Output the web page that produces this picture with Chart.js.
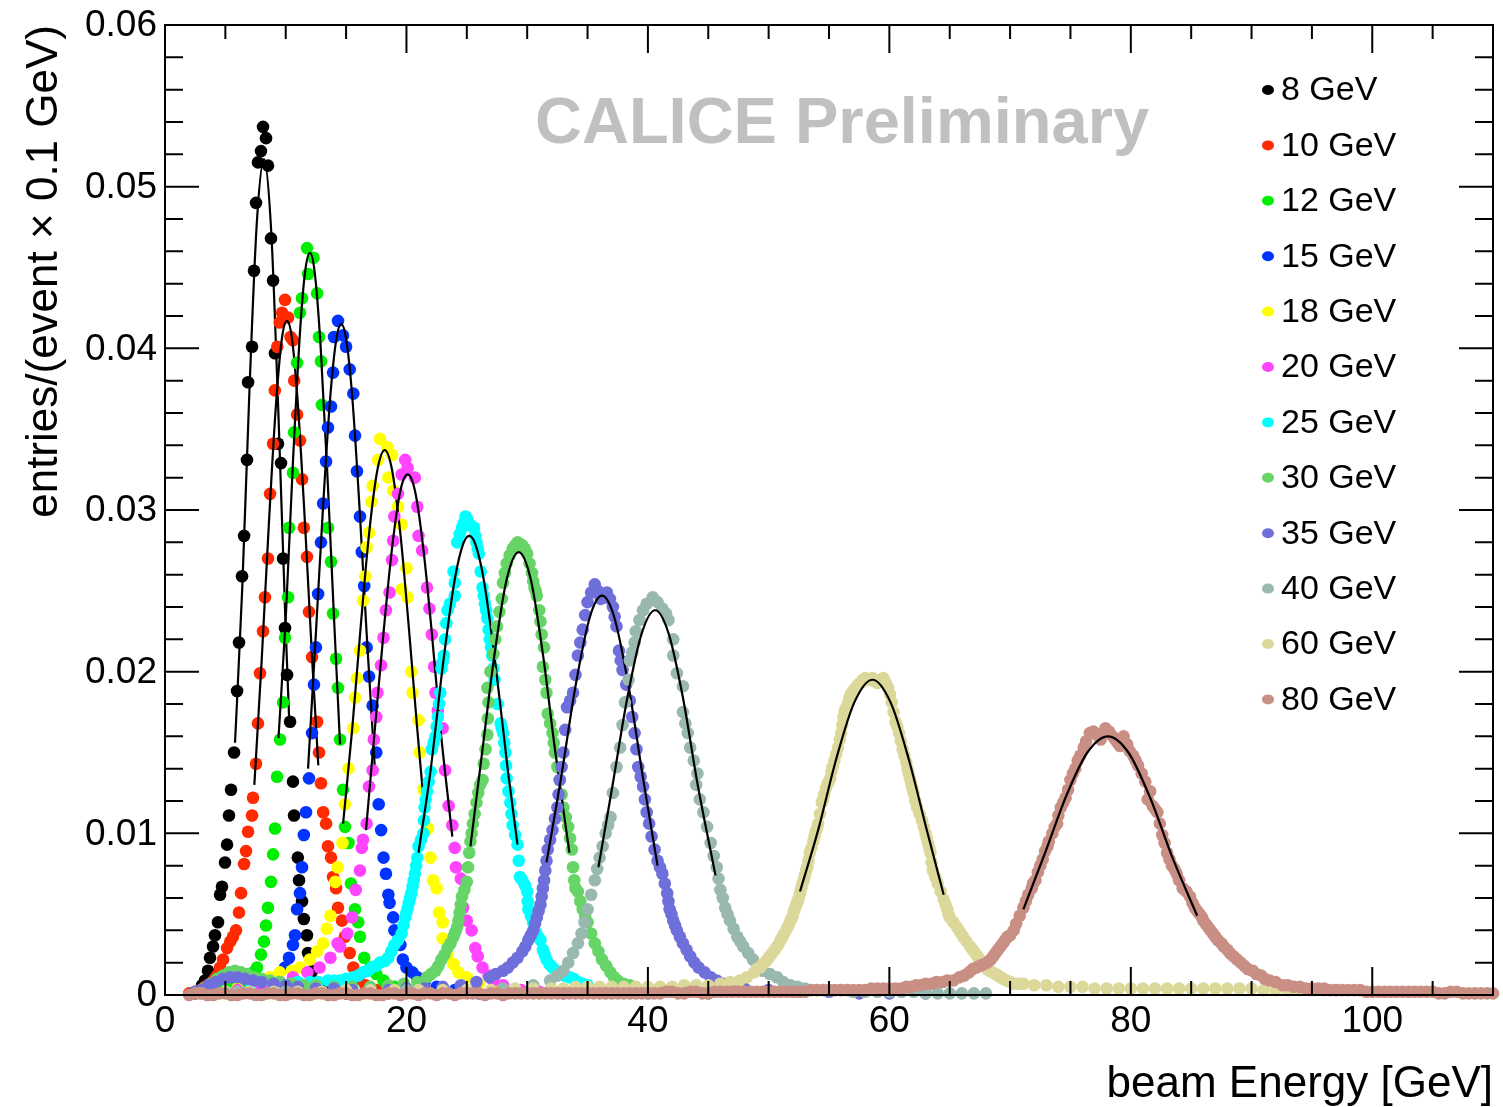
<!DOCTYPE html>
<html>
<head>
<meta charset="utf-8">
<script src="https://cdn.jsdelivr.net/npm/chart.js@4"></script>
<style>
  body { margin: 0; background: #fff; }
  canvas { display: block; }
</style>
</head>
<body>
<canvas id="c" width="1503" height="1107"></canvas>
<script>
// energy response histograms: [beam energy GeV, entries]
const e8 = [[2.5,0.0001],[2.9,0.0003],[3.07,0.0006],[3.31,0.0009],[3.56,0.0015],[3.73,0.0023],[3.98,0.003],[4.14,0.0037],[4.39,0.0045],[4.56,0.0062],[4.72,0.0067],[4.97,0.0082],[5.14,0.0093],[5.3,0.0111],[5.47,0.0127],[5.72,0.015],[5.97,0.0188],[6.13,0.0218],[6.38,0.0259],[6.55,0.0284],[6.79,0.0331],[6.88,0.0379],[7.21,0.0401],[7.37,0.0448],[7.54,0.049],[7.7,0.0515],[7.95,0.0522],[8.12,0.0537],[8.37,0.053],[8.53,0.0513],[8.78,0.0468],[8.95,0.0442],[9.11,0.0397],[9.36,0.0341],[9.61,0.0329],[9.78,0.027],[9.94,0.0227],[10.11,0.0198],[10.36,0.0169],[10.6,0.0132],[10.69,0.0111],[11.0,0.0085],[11.1,0.0071],[11.35,0.0058],[11.5,0.0047],[11.76,0.0037],[11.85,0.0026],[12.2,0.0015],[12.6,0.0008],[13.2,0.0004],[14,0.0002],[15,0.0001]];
const e10 = [[2.0,0.0001],[2.5,0.0002],[2.9,0.0003],[3.3,0.0005],[3.73,0.0007],[4.1,0.001],[4.31,0.0012],[4.56,0.0017],[4.81,0.0022],[5.14,0.0029],[5.4,0.0033],[5.63,0.0036],[5.88,0.004],[6.13,0.0051],[6.3,0.0063],[6.55,0.0081],[6.71,0.0089],[6.88,0.0101],[7.21,0.0111],[7.29,0.0122],[7.54,0.0143],[7.7,0.0168],[7.87,0.0199],[8.12,0.0225],[8.28,0.0246],[8.53,0.027],[8.7,0.031],[8.95,0.0341],[9.1,0.0374],[9.3,0.0401],[9.5,0.0416],[9.7,0.0422],[9.94,0.043],[10.2,0.0419],[10.4,0.0407],[10.6,0.0405],[10.7,0.038],[10.94,0.0359],[11.18,0.0343],[11.35,0.0319],[11.5,0.0289],[11.76,0.0271],[11.93,0.0237],[12.18,0.0209],[12.6,0.0169],[12.76,0.015],[12.92,0.0131],[13.1,0.0113],[13.34,0.0106],[13.5,0.0092],[13.75,0.0085],[13.92,0.0073],[14.17,0.0066],[14.33,0.0054],[14.66,0.0046],[14.9,0.0036],[15.3,0.0026],[15.6,0.0017],[16.0,0.001],[16.6,0.0006],[17.5,0.0003],[18.5,0.0001]];
const e12 = [[3.5,0.0002],[4.5,0.0003],[5.5,0.0005],[6.5,0.0008],[7.0,0.0011],[7.3,0.0014],[7.62,0.0017],[7.95,0.0025],[8.2,0.0033],[8.37,0.0043],[8.53,0.0054],[8.78,0.007],[8.95,0.0087],[9.11,0.0103],[9.28,0.0135],[9.53,0.0158],[9.78,0.0181],[9.94,0.0221],[10.19,0.0246],[10.27,0.0289],[10.6,0.0323],[10.69,0.0348],[10.94,0.0391],[11.18,0.0422],[11.35,0.0431],[11.76,0.0462],[11.85,0.0446],[12.3,0.0456],[12.6,0.0434],[12.76,0.0407],[12.92,0.0392],[13.0,0.0365],[13.5,0.0289],[13.75,0.0268],[13.92,0.0236],[14.17,0.0208],[14.33,0.019],[14.5,0.0158],[14.75,0.0127],[14.91,0.0104],[15.2,0.0094],[15.4,0.0069],[15.74,0.0053],[16.0,0.0045],[16.15,0.0036],[16.5,0.0023],[17.0,0.0017],[17.5,0.0013],[18.1,0.0009],[19,0.0005],[20,0.0003],[21,0.0002]];
const e15 = [[4,0.0001],[6,0.0002],[7.5,0.0004],[8.5,0.0006],[9.3,0.001],[9.94,0.0017],[10.27,0.0023],[10.6,0.0031],[10.77,0.0037],[10.94,0.0053],[11.18,0.0063],[11.35,0.0079],[11.5,0.0099],[11.68,0.0113],[11.93,0.0134],[12.18,0.0162],[12.34,0.0192],[12.5,0.0215],[12.68,0.0248],[12.92,0.028],[13.1,0.0304],[13.34,0.033],[13.5,0.0351],[13.75,0.0364],[13.92,0.0385],[14.0,0.0407],[14.33,0.0417],[14.75,0.0408],[15.0,0.0401],[15.3,0.0387],[15.6,0.0372],[15.74,0.0346],[15.9,0.0324],[16.15,0.0296],[16.3,0.0274],[16.5,0.0253],[16.7,0.0215],[16.9,0.0197],[17.2,0.0179],[17.5,0.015],[17.7,0.0118],[17.9,0.0102],[18.1,0.0085],[18.3,0.0075],[18.5,0.0062],[18.6,0.0057],[18.9,0.0048],[19.0,0.004],[19.5,0.0031],[19.7,0.0022],[20.0,0.0017],[20.5,0.0014],[20.9,0.0011],[21.5,0.0008],[22.5,0.0005],[24,0.0003],[26,0.0001]];
const e18 = [[4,0.0002],[6,0.0004],[7.5,0.0008],[8.7,0.0011],[9.5,0.0014],[10.5,0.0015],[11.2,0.0017],[12.0,0.0022],[12.6,0.0027],[13.1,0.0032],[13.4,0.0041],[13.7,0.0049],[14.1,0.007],[14.3,0.0079],[14.7,0.0094],[14.9,0.0118],[15.2,0.014],[15.6,0.0165],[15.75,0.0184],[15.9,0.0196],[16.15,0.0213],[16.4,0.0244],[16.6,0.0259],[16.7,0.0277],[16.9,0.0286],[17.1,0.0305],[17.2,0.0315],[17.65,0.0331],[17.8,0.0344],[18.4,0.0339],[18.5,0.032],[18.8,0.0334],[18.9,0.0312],[19.3,0.0302],[19.6,0.0291],[19.6,0.0251],[20.0,0.0264],[20.1,0.0246],[20.4,0.02],[20.5,0.0187],[21.0,0.017],[21.1,0.015],[21.4,0.0127],[21.8,0.0103],[22.0,0.0085],[22.2,0.0071],[22.5,0.0066],[22.7,0.0051],[23.0,0.0045],[23.0,0.0035],[23.4,0.0025],[23.9,0.0019],[24.3,0.0014],[25.0,0.0011],[26,0.0007],[27.5,0.0004],[29,0.0002],[31,0.0001]];
const e20 = [[4,0.0001],[6,0.0003],[8,0.0005],[9.5,0.0008],[10.6,0.0011],[11.8,0.0014],[12.8,0.0017],[13.7,0.0023],[14.3,0.0032],[14.5,0.003],[15.1,0.0038],[15.5,0.0048],[15.8,0.0065],[16.15,0.0077],[16.3,0.0091],[16.4,0.0096],[16.7,0.0106],[16.9,0.0129],[17.2,0.0139],[17.3,0.0158],[17.5,0.0172],[17.6,0.0187],[17.9,0.0204],[18.1,0.0221],[18.3,0.0238],[18.6,0.0249],[18.8,0.0269],[18.9,0.0281],[19.0,0.0296],[19.3,0.031],[19.6,0.0322],[19.9,0.0331],[20.1,0.0326],[20.7,0.032],[20.9,0.0302],[21.0,0.0284],[21.3,0.0275],[21.7,0.0252],[21.9,0.0239],[22.1,0.0223],[22.3,0.0203],[22.4,0.0187],[22.6,0.0176],[23.0,0.0165],[23.2,0.0139],[23.5,0.0117],[23.8,0.0105],[24.0,0.0091],[24.1,0.0079],[24.5,0.0072],[24.7,0.0054],[25.0,0.0046],[25.4,0.004],[25.7,0.0029],[25.9,0.0024],[26.3,0.0017],[26.8,0.0012],[27.2,0.0009],[28,0.0006],[29.5,0.0003],[31,0.0002],[33,0.0001]];
const e25 = [[3,0.0001],[5,0.0002],[7,0.0003],[9,0.0005],[10.5,0.0007],[11,0.0008],[12,0.0008],[12.7,0.0008],[13.5,0.0009],[14,0.0009],[14.5,0.0009],[15,0.001],[15.6,0.0011],[16,0.0012],[16.4,0.0014],[16.8,0.0015],[17.1,0.0017],[17.5,0.0018],[17.8,0.002],[18.2,0.0021],[18.5,0.0023],[18.75,0.0027],[19.0,0.0031],[19.3,0.0034],[19.6,0.0038],[19.75,0.0043],[19.9,0.0048],[20.0,0.0051],[20.1,0.0054],[20.2,0.0057],[20.3,0.006],[20.4,0.0063],[20.5,0.0067],[20.6,0.0071],[20.7,0.0075],[20.8,0.008],[20.9,0.0085],[21.0,0.0092],[21.2,0.0096],[21.4,0.01],[21.45,0.0108],[21.5,0.0116],[21.6,0.0121],[21.7,0.0126],[21.85,0.0132],[22.0,0.0138],[22.1,0.0152],[22.25,0.0156],[22.4,0.016],[22.5,0.0166],[22.6,0.0172],[22.7,0.018],[22.8,0.0187],[22.9,0.0202],[23.0,0.0206],[23.1,0.021],[23.2,0.022],[23.3,0.023],[23.4,0.0238],[23.6,0.0242],[24.0,0.0247],[24.0,0.0255],[23.9,0.0262],[24.2,0.028],[24.4,0.0285],[24.6,0.0289],[24.75,0.0292],[24.9,0.0296],[25.05,0.0294],[25.2,0.0291],[25.4,0.029],[25.6,0.0289],[25.7,0.0284],[25.8,0.028],[25.9,0.0276],[26.0,0.0273],[26.15,0.0262],[26.3,0.0252],[26.4,0.0247],[26.5,0.0242],[26.6,0.0238],[26.7,0.0233],[26.8,0.0226],[26.9,0.022],[27.0,0.0215],[27.1,0.021],[27.2,0.0202],[27.3,0.0195],[27.55,0.018],[27.8,0.0168],[27.9,0.0165],[28.0,0.0162],[28.1,0.0156],[28.2,0.015],[28.25,0.0142],[28.3,0.0134],[28.45,0.0126],[28.6,0.0119],[28.7,0.0112],[28.8,0.0105],[29.0,0.0099],[29.2,0.0093],[29.3,0.0083],[29.4,0.0073],[29.6,0.0071],[29.8,0.0068],[30.0,0.0064],[30.05,0.0058],[30.1,0.0053],[30.3,0.0049],[30.5,0.0045],[30.7,0.0039],[30.9,0.0036],[31.1,0.0034],[31.3,0.0028],[31.45,0.0025],[31.6,0.0022],[31.85,0.0019],[32.1,0.0017],[32.4,0.0015],[32.7,0.0014],[33.1,0.0012],[33.5,0.0011],[33.85,0.001],[34.2,0.0008],[34.6,0.0007],[35.0,0.0006],[36,0.0004],[38,0.0002],[40,0.0001]];
const e30 = [[2.5,0.0002],[3.2,0.0004],[3.8,0.0007],[4.3,0.001],[4.8,0.0012],[5.3,0.0014],[5.8,0.0015],[6.3,0.0014],[6.8,0.0013],[7.4,0.0011],[8,0.001],[8.7,0.0009],[9.5,0.0008],[10.5,0.0007],[11.5,0.0006],[12.5,0.0006],[14,0.0005],[15.5,0.0005],[17,0.0005],[18.5,0.0006],[19.8,0.0007],[20.9,0.0008],[21.7,0.0011],[22.05,0.0013],[22.4,0.0015],[22.65,0.0018],[22.9,0.0022],[23.15,0.0025],[23.4,0.0029],[23.65,0.0032],[23.9,0.0036],[24.05,0.0039],[24.2,0.0042],[24.3,0.0046],[24.4,0.0051],[24.5,0.0056],[24.6,0.0061],[24.8,0.0065],[25.0,0.007],[25.1,0.0079],[25.2,0.0088],[25.3,0.0095],[25.4,0.01],[25.5,0.0106],[25.65,0.0112],[25.8,0.0119],[25.95,0.0125],[26.1,0.013],[26.3,0.0133],[26.4,0.0143],[26.55,0.0152],[26.7,0.0161],[26.75,0.0171],[26.8,0.0181],[26.7,0.019],[26.95,0.02],[27.2,0.0211],[27.35,0.022],[27.5,0.0228],[27.7,0.0237],[27.9,0.0245],[28.0,0.0255],[28.15,0.0261],[28.3,0.0267],[28.55,0.0272],[28.8,0.0276],[29.0,0.0278],[29.2,0.028],[29.4,0.0279],[29.6,0.0278],[29.8,0.0276],[30.0,0.0273],[30.2,0.0267],[30.4,0.0261],[30.5,0.0256],[30.6,0.0252],[30.7,0.025],[30.8,0.0247],[31.0,0.0238],[31.1,0.0231],[31.2,0.0223],[31.4,0.0215],[31.3,0.0203],[31.5,0.0195],[31.6,0.0187],[31.7,0.0174],[31.9,0.0168],[32.1,0.0162],[32.2,0.0156],[32.3,0.015],[32.5,0.0141],[32.7,0.0133],[32.85,0.0124],[33.0,0.0116],[33.2,0.011],[33.4,0.0104],[33.55,0.0097],[33.7,0.009],[33.8,0.0079],[33.9,0.0071],[34.0,0.0066],[34.2,0.0064],[34.4,0.0058],[34.6,0.0053],[34.8,0.0049],[35.0,0.0045],[35.3,0.0038],[35.6,0.0032],[35.9,0.0027],[36.2,0.0022],[36.55,0.0018],[36.9,0.0014],[37.2,0.0011],[37.5,0.0009],[38,0.0007],[38.5,0.0006],[40,0.0003],[42,0.0002],[45,0.0001]];
const e35 = [[2.5,0.0002],[3,0.0003],[3.6,0.0006],[4.2,0.0008],[4.8,0.001],[5.4,0.0011],[6,0.0011],[6.6,0.001],[7.3,0.0009],[8,0.0008],[9,0.0007],[10,0.0006],[11,0.0005],[12.5,0.0004],[14,0.0004],[15.5,0.0003],[17,0.0003],[18.5,0.0003],[20,0.0004],[21.5,0.0004],[23,0.0005],[24.5,0.0006],[25.8,0.0008],[26.9,0.0011],[27.4,0.0013],[28.0,0.0015],[28.4,0.0017],[28.8,0.002],[29.2,0.0023],[29.6,0.0027],[29.85,0.003],[30.1,0.0034],[30.3,0.0037],[30.5,0.004],[30.65,0.0044],[30.8,0.0048],[30.95,0.0052],[31.1,0.0056],[31.2,0.0061],[31.3,0.0066],[31.4,0.0071],[31.5,0.0077],[31.6,0.0083],[31.7,0.009],[31.9,0.0096],[32.1,0.0102],[32.3,0.0109],[32.5,0.0116],[32.6,0.0124],[32.7,0.0133],[32.85,0.0141],[33.0,0.015],[33.15,0.0164],[33.3,0.0178],[33.55,0.0182],[33.8,0.0187],[34.0,0.0198],[34.2,0.021],[34.4,0.0218],[34.6,0.0226],[34.8,0.0235],[35.0,0.0243],[35.3,0.0249],[35.6,0.0254],[35.85,0.025],[36.1,0.0245],[36.35,0.0247],[36.6,0.0249],[36.85,0.0245],[37.1,0.024],[37.25,0.0234],[37.4,0.0228],[37.6,0.0213],[37.75,0.0207],[37.9,0.0201],[38.2,0.0192],[38.5,0.0182],[38.7,0.0172],[38.9,0.0162],[39.05,0.0152],[39.2,0.0141],[39.4,0.0135],[39.6,0.0129],[39.75,0.0121],[39.9,0.0113],[40.1,0.0106],[40.3,0.0098],[40.55,0.009],[40.8,0.0083],[41.0,0.0079],[41.2,0.0075],[41.4,0.0069],[41.6,0.0063],[41.7,0.0058],[41.8,0.0053],[41.95,0.005],[42.1,0.0046],[42.25,0.0043],[42.4,0.004],[42.65,0.0036],[42.9,0.0032],[43.2,0.0028],[43.5,0.0024],[43.85,0.002],[44.2,0.0017],[44.7,0.0014],[45.2,0.0011],[45.7,0.0009],[46.2,0.0007],[47,0.0005],[48,0.0004],[50,0.0003],[52.5,0.0002],[55,0.0002],[57.5,0.0001],[60,0.0001],[63,0.0001]];
const e40 = [[3,0.0001],[6,0.0002],[10,0.0002],[15,0.0002],[20,0.0003],[25,0.0003],[28,0.0004],[30.5,0.0006],[31.9,0.0009],[32.5,0.0012],[33.0,0.0015],[33.4,0.002],[33.8,0.0026],[34.2,0.0032],[34.5,0.0038],[34.75,0.0045],[35.0,0.0053],[35.3,0.0062],[35.6,0.0071],[35.8,0.0078],[36.0,0.0085],[36.25,0.0092],[36.5,0.01],[36.7,0.0105],[36.9,0.011],[37.1,0.0125],[37.4,0.0141],[37.7,0.0153],[37.9,0.0167],[38.1,0.0181],[38.4,0.0195],[38.5,0.0207],[38.7,0.0212],[38.9,0.0218],[39.0,0.0225],[39.3,0.0232],[39.6,0.0238],[39.9,0.0242],[40.4,0.0246],[40.8,0.0243],[41.2,0.0239],[41.5,0.0236],[41.7,0.0232],[42.1,0.022],[42.1,0.021],[42.4,0.0199],[42.9,0.0191],[42.9,0.0175],[43.1,0.0168],[43.3,0.0162],[43.5,0.0153],[43.8,0.0145],[44.0,0.013],[44.1,0.0137],[44.3,0.0121],[44.6,0.0113],[44.9,0.0104],[45.2,0.0094],[45.45,0.0086],[45.7,0.0079],[45.85,0.0072],[46.0,0.0065],[46.2,0.006],[46.4,0.0054],[46.6,0.005],[46.8,0.0046],[47.1,0.0041],[47.4,0.0036],[47.65,0.0033],[47.9,0.003],[48.3,0.0026],[48.7,0.0022],[49.1,0.0018],[49.5,0.0015],[50.1,0.0013],[50.7,0.0011],[51.2,0.0008],[51.8,0.0006],[52.4,0.0005],[53,0.0004],[54,0.0003],[55,0.0003],[56,0.0003],[57,0.0002],[58,0.0002],[59,0.0002],[60,0.0002],[61,0.0002],[62,0.0002],[63,0.0001],[64,0.0001],[65,0.0001],[66,0.0001],[67,0.0001],[68,0.0001]];
const e60 = [[3,0.0001],[5,0.0002],[7,0.0002],[9,0.0002],[11,0.0002],[13,0.0002],[15,0.0003],[17,0.0003],[19,0.0003],[21,0.0003],[23,0.0003],[25,0.0003],[27,0.0003],[29,0.0004],[30.5,0.0004],[32,0.0004],[33,0.0004],[34,0.0005],[35,0.0005],[36,0.0005],[37,0.0005],[38,0.0005],[39,0.0005],[40,0.0005],[41,0.0005],[42,0.0005],[43,0.0006],[44,0.0006],[45,0.0006],[46,0.0007],[46.8,0.0008],[47.6,0.0009],[48.2,0.0011],[48.8,0.0014],[49.0,0.0016],[49.3,0.0017],[49.5,0.0019],[49.8,0.0021],[50.0,0.0023],[50.2,0.0025],[50.4,0.0027],[50.6,0.0029],[50.8,0.0031],[51.0,0.0034],[51.15,0.0036],[51.3,0.0038],[51.5,0.0041],[51.65,0.0043],[51.8,0.0046],[51.9,0.0047],[52.0,0.0049],[52.1,0.0052],[52.2,0.0054],[52.3,0.0056],[52.4,0.0058],[52.5,0.006],[52.6,0.0063],[52.7,0.0066],[52.8,0.0069],[52.9,0.0071],[53.0,0.0074],[53.1,0.0077],[53.2,0.0079],[53.3,0.0083],[53.4,0.0088],[53.55,0.0091],[53.7,0.0095],[53.8,0.0098],[53.9,0.0101],[54.0,0.0103],[54.1,0.0106],[54.25,0.0112],[54.4,0.0119],[54.5,0.0121],[54.6,0.0124],[54.75,0.0128],[54.9,0.0131],[55.0,0.0132],[55.1,0.0134],[55.2,0.0138],[55.3,0.0141],[55.45,0.0145],[55.6,0.0149],[55.75,0.0153],[55.9,0.0158],[56.0,0.0162],[56.1,0.0167],[56.2,0.0172],[56.3,0.0176],[56.45,0.0178],[56.6,0.0181],[56.7,0.0184],[56.8,0.0186],[57.0,0.0188],[57.2,0.019],[57.4,0.0192],[57.6,0.0193],[57.8,0.0195],[58.0,0.0196],[58.3,0.0195],[58.6,0.0196],[58.8,0.0194],[59.0,0.0193],[59.2,0.0195],[59.5,0.0196],[59.7,0.0193],[59.9,0.019],[60.05,0.0186],[60.2,0.0181],[60.35,0.0175],[60.5,0.0169],[60.65,0.0166],[60.8,0.0162],[60.95,0.0157],[61.1,0.0152],[61.25,0.0148],[61.4,0.0144],[61.5,0.014],[61.6,0.0137],[61.7,0.0134],[61.8,0.0131],[61.9,0.0128],[62.0,0.0125],[62.15,0.012],[62.3,0.0116],[62.5,0.0112],[62.7,0.0108],[62.85,0.0104],[63.0,0.01],[63.1,0.0097],[63.2,0.0094],[63.3,0.0091],[63.4,0.0088],[63.5,0.0082],[63.6,0.0077],[63.8,0.0073],[64.0,0.0069],[64.25,0.0064],[64.5,0.0059],[64.65,0.0056],[64.8,0.0053],[64.9,0.005],[65.0,0.0048],[65.3,0.0045],[65.6,0.0042],[65.85,0.0039],[66.1,0.0036],[66.4,0.0033],[66.7,0.003],[66.9,0.0028],[67.1,0.0026],[67.3,0.0024],[67.5,0.0022],[67.7,0.002],[67.9,0.0018],[68.1,0.0016],[68.3,0.0015],[68.55,0.0014],[68.8,0.0013],[69.0,0.0012],[69.2,0.0011],[69.45,0.001],[69.7,0.0009],[70.0,0.0008],[70.3,0.0007],[70.7,0.0007],[71.1,0.0007],[72,0.0006],[73,0.0006],[74,0.0005],[75,0.0005],[76,0.0005],[77,0.0004],[78,0.0004],[79,0.0004],[80,0.0004],[81,0.0004],[82,0.0004],[83,0.0004],[84,0.0004],[85,0.0004],[86,0.0004],[87,0.0004],[88,0.0004],[89,0.0004],[90,0.0004],[91,0.0003],[92,0.0003],[93,0.0003],[94,0.0003],[95,0.0003],[96,0.0003],[97,0.0003]];
const e80 = [[2,0],[2.5,0.0001],[3,0.0001],[3.5,0],[4,0],[4.5,0.0001],[5,0.0001],[5.5,0],[6,0],[6.5,0.0001],[7,0.0001],[7.5,0],[8,0],[8.5,0.0001],[9,0.0001],[9.5,0],[10,0],[10.5,0.0001],[11,0.0001],[11.5,0],[12,0],[12.5,0.0001],[13,0.0001],[13.5,0],[14,0],[14.5,0.0001],[15,0.0001],[15.5,0],[16,0],[16.5,0.0001],[17,0.0001],[17.5,0],[18,0],[18.5,0.0001],[19,0.0001],[19.5,0],[20,0.0001],[20.5,0.0001],[21,0],[21.5,0.0001],[22,0.0001],[22.5,0],[23,0.0001],[23.5,0.0001],[24,0],[24.5,0.0001],[25,0.0001],[25.5,0.0001],[26,0.0001],[26.5,0],[27,0.0001],[27.5,0.0001],[28,0],[28.5,0.0001],[29,0.0001],[29.5,0.0001],[30,0.0001],[30.5,0.0001],[31,0.0001],[31.5,0.0001],[32,0.0001],[32.5,0.0001],[33,0.0001],[33.5,0.0001],[34,0.0001],[34.5,0.0001],[35,0.0001],[35.5,0.0001],[36,0.0001],[36.5,0.0001],[37,0.0001],[37.5,0.0001],[38,0.0001],[38.5,0.0001],[39,0.0001],[39.5,0.0001],[40,0.0001],[40.5,0.0001],[41,0.0001],[41.5,0.0002],[42,0.0002],[42.5,0.0001],[43,0.0001],[43.5,0.0002],[44,0.0002],[44.5,0.0001],[45,0.0001],[45.5,0.0002],[46,0.0002],[46.5,0.0002],[47,0.0002],[47.5,0.0002],[48,0.0002],[48.5,0.0002],[49,0.0002],[49.5,0.0002],[50,0.0002],[50.5,0.0002],[51,0.0002],[51.5,0.0002],[52,0.0002],[52.5,0.0002],[53,0.0002],[53.5,0.0003],[54,0.0003],[54.5,0.0003],[55,0.0003],[55.5,0.0003],[56,0.0003],[56.5,0.0003],[57,0.0003],[57.5,0.0003],[58,0.0003],[58.5,0.0004],[59,0.0004],[59.5,0.0004],[60,0.0004],[60.5,0.0004],[61,0.0004],[61.4,0.0005],[61.8,0.0005],[62.2,0.0006],[62.6,0.0006],[63.0,0.0007],[63.5,0.0007],[63.9,0.0008],[64.4,0.0008],[64.8,0.0009],[65.3,0.0009],[65.8,0.0011],[66.2,0.0012],[66.6,0.0014],[66.9,0.0016],[67.2,0.0017],[67.5,0.0018],[67.8,0.0019],[68.1,0.002],[68.4,0.0022],[68.6,0.0024],[68.8,0.0026],[69.0,0.0028],[69.2,0.003],[69.4,0.0032],[69.6,0.0034],[69.8,0.0036],[70.0,0.0037],[70.3,0.004],[70.5,0.0044],[70.8,0.0049],[71.1,0.0054],[71.3,0.0058],[71.5,0.0062],[71.8,0.0066],[71.9,0.0069],[72.1,0.0071],[72.3,0.0076],[72.5,0.008],[72.7,0.0084],[72.9,0.0089],[73.1,0.0092],[73.2,0.0095],[73.5,0.01],[73.7,0.0104],[73.9,0.0106],[74.0,0.0111],[74.2,0.0116],[74.4,0.0119],[74.6,0.0122],[74.8,0.0127],[75.0,0.0133],[75.2,0.0137],[75.4,0.014],[75.6,0.0145],[75.8,0.0148],[76.1,0.0153],[76.3,0.0157],[76.6,0.0162],[76.9,0.0163],[77.2,0.0161],[77.5,0.0158],[77.9,0.0165],[78.2,0.0163],[78.5,0.016],[78.7,0.0158],[78.9,0.0156],[79.1,0.0154],[79.4,0.016],[79.7,0.0155],[79.9,0.0151],[80.2,0.0148],[80.4,0.0145],[80.6,0.0142],[80.9,0.0137],[81.2,0.0132],[81.4,0.0121],[81.6,0.0126],[81.8,0.0117],[82.0,0.0115],[82.2,0.0113],[82.4,0.0106],[82.6,0.0099],[82.8,0.0094],[83.0,0.0088],[83.2,0.0084],[83.4,0.008],[83.6,0.0078],[83.8,0.0075],[84.0,0.0071],[84.3,0.0066],[84.6,0.0064],[84.9,0.0061],[85.1,0.0057],[85.3,0.0054],[85.5,0.0052],[85.7,0.005],[85.9,0.0048],[86.0,0.0046],[86.2,0.0044],[86.4,0.0042],[86.6,0.004],[86.8,0.0038],[87.0,0.0036],[87.2,0.0034],[87.5,0.0032],[87.7,0.003],[88.0,0.0028],[88.2,0.0026],[88.5,0.0024],[88.8,0.0022],[89.1,0.002],[89.4,0.0018],[89.7,0.0016],[90.1,0.0015],[90.4,0.0013],[90.8,0.0012],[91.1,0.001],[91.5,0.0009],[92.0,0.0008],[92.6,0.0006],[93.0,0.0006],[93.5,0.0005],[94,0.0005],[94.5,0.0004],[95,0.0004],[95.5,0.0004],[96,0.0004],[96.5,0.0003],[97,0.0003],[97.5,0.0003],[98,0.0003],[98.5,0.0003],[99,0.0003],[99.5,0.0002],[100,0.0002],[100.5,0.0002],[101,0.0002],[101.5,0.0002],[102,0.0002],[102.5,0.0002],[103,0.0002],[103.5,0.0002],[104,0.0002],[104.5,0.0002],[105,0.0002],[105.5,0.0001],[106,0.0001],[106.5,0.0002],[107,0.0002],[107.5,0.0001],[108,0.0001],[108.5,0.0001],[109,0.0001],[109.5,0.0001],[110,0.0001]];

// gaussian fits (black curves)
const f8 = [[5.8,0.0156],[6.4,0.0252],[7.0,0.0375],[7.6,0.0477],[8.2,0.0517],[8.8,0.0472],[9.4,0.0358],[10.0,0.0226],[10.3,0.0168]];
const f10 = [[7.4,0.013],[8.0,0.0206],[8.6,0.0291],[9.2,0.0366],[9.7,0.0407],[10.1,0.0417],[10.5,0.0407],[11.0,0.0366],[11.6,0.0291],[12.2,0.0206],[12.7,0.0142]];
const f12 = [[9.4,0.0159],[10.0,0.0233],[10.6,0.033],[11.2,0.0412],[11.6,0.0447],[12.0,0.0459],[12.4,0.0447],[12.9,0.04],[13.5,0.0314],[14.0,0.0233],[14.5,0.0155]];
const f15 = [[11.85,0.014],[12.5,0.0224],[13.1,0.0303],[13.7,0.0371],[14.2,0.0406],[14.6,0.0415],[15.0,0.0406],[15.5,0.0371],[16.1,0.0303],[16.7,0.0224],[17.4,0.0138]];
const f18 = [[14.75,0.0106],[15.5,0.0164],[16.2,0.0227],[16.9,0.0285],[17.6,0.0325],[18.2,0.0337],[18.8,0.0325],[19.5,0.0285],[20.2,0.0227],[20.9,0.0164],[21.4,0.0122]];
const f20 = [[16.65,0.0102],[17.4,0.0166],[18.1,0.0224],[18.8,0.0276],[19.5,0.0312],[20.1,0.0322],[20.7,0.0312],[21.4,0.0276],[22.1,0.0224],[22.8,0.0166],[23.8,0.0098]];
const f25 = [[21.0,0.0088],[22.0,0.0139],[23.0,0.0203],[24.0,0.0257],[24.7,0.0279],[25.2,0.0284],[25.7,0.0279],[26.4,0.0257],[27.4,0.0203],[28.4,0.0139],[29.2,0.0093]];
const f30 = [[25.3,0.0092],[26.3,0.0152],[27.3,0.0211],[28.3,0.0257],[29.3,0.0274],[30.3,0.0257],[31.3,0.0211],[32.3,0.0152],[33.5,0.0088]];
const f35 = [[31.6,0.0082],[32.8,0.0134],[34.0,0.0191],[35.2,0.0234],[36.2,0.0247],[37.2,0.0234],[38.4,0.0191],[39.6,0.0134],[40.8,0.008]];
const f40 = [[35.9,0.0079],[37.1,0.0131],[38.3,0.0184],[39.5,0.0224],[40.6,0.0238],[41.7,0.0224],[42.9,0.0184],[44.1,0.0131],[45.6,0.0074]];
const f60 = [[52.6,0.0064],[54.1,0.0102],[55.6,0.0146],[57.1,0.0181],[58.6,0.0195],[60.1,0.0181],[61.6,0.0146],[63.1,0.0102],[64.5,0.0062]];
const f80 = [[71.1,0.0053],[72.9,0.0088],[74.7,0.0124],[76.4,0.015],[78.1,0.016],[79.8,0.015],[81.6,0.0122],[83.5,0.0084],[85.5,0.0049]];

const labels = ['8 GeV','10 GeV','12 GeV','15 GeV','18 GeV','20 GeV','25 GeV','30 GeV','35 GeV','40 GeV','60 GeV','80 GeV'];
const colors = ['#000000','#ff2a00','#00ee00','#0033ff','#ffff00','#ff44ff','#00ffff','#66d466','#6f6fdc','#99b8b0','#dcd89a','#c98f84'];
const points = [e8,e10,e12,e15,e18,e20,e25,e30,e35,e40,e60,e80];
const fits = [f8,f10,f12,f15,f18,f20,f25,f30,f35,f40,f60,f80];

const xTicks = [0,20,40,60,80,100];
const yTicks = [0,0.01,0.02,0.03,0.04,0.05,0.06];
const yTickLabels = ['0','0.01','0.02','0.03','0.04','0.05','0.06'];

const FONT = '"Liberation Sans", Arial, Helvetica, sans-serif';

const datasets = [];
points.forEach((pts, i) => {
  datasets.push({
    label: labels[i],
    data: pts.map(p => ({x: p[0], y: p[1]})),
    backgroundColor: colors[i],
    borderWidth: 0,
    pointRadius: 6.3,
    clip: false,
    order: 100 - 2 * i
  });
  datasets.push({
    label: 'fit ' + labels[i],
    data: fits[i].map(p => ({x: p[0], y: p[1]})),
    showLine: true,
    borderColor: '#000',
    borderWidth: 2.2,
    pointRadius: 0,
    cubicInterpolationMode: 'monotone',
    order: 99 - 2 * i
  });
});

// ROOT style frame, inward ticks, labels and legend
const frame = {
  id: 'frame',
  afterDraw(chart) {
    const {ctx, chartArea: a, scales: {x, y}} = chart;
    ctx.save();
    ctx.strokeStyle = '#000';
    ctx.lineWidth = 2;
    ctx.strokeRect(a.left, a.top, a.right - a.left, a.bottom - a.top);

    ctx.beginPath();
    for (let i = 0; i <= 22; i++) {
      const px = x.getPixelForValue(i * 5);
      const len = i % 4 === 0 ? 28 : 14;
      ctx.moveTo(px, a.bottom); ctx.lineTo(px, a.bottom - len);
      ctx.moveTo(px, a.top); ctx.lineTo(px, a.top + len);
    }
    for (let i = 0; i <= 30; i++) {
      const py = y.getPixelForValue(i * 0.002);
      const len = i % 5 === 0 ? 34 : 18;
      ctx.moveTo(a.left, py); ctx.lineTo(a.left + len, py);
      ctx.moveTo(a.right, py); ctx.lineTo(a.right - len, py);
    }
    ctx.stroke();

    ctx.fillStyle = '#000';
    ctx.font = '37px ' + FONT;
    ctx.textAlign = 'right';
    ctx.textBaseline = 'middle';
    yTicks.forEach((v, i) => ctx.fillText(yTickLabels[i], a.left - 8, y.getPixelForValue(v) + 1));
    ctx.textAlign = 'center';
    xTicks.forEach(v => ctx.fillText(String(v), x.getPixelForValue(v), a.bottom + 27));

    ctx.font = '44px ' + FONT;
    ctx.textAlign = 'right';
    ctx.textBaseline = 'alphabetic';
    ctx.fillText('beam Energy [GeV]', a.right, 1097);
    ctx.save();
    ctx.translate(57, a.top);
    ctx.rotate(-Math.PI / 2);
    ctx.fillText('entries/(event \u00d7 0.1 GeV)', 0, 0);
    ctx.restore();

    ctx.fillStyle = '#c0c0c0';
    ctx.font = 'bold 65px ' + FONT;
    ctx.textAlign = 'left';
    ctx.fillText('CALICE Preliminary', 535, 143);

    ctx.font = '34px ' + FONT;
    ctx.textBaseline = 'middle';
    labels.forEach((lab, i) => {
      const ly = 90 + i * 55.4;
      ctx.fillStyle = colors[i];
      ctx.beginPath();
      ctx.ellipse(1268, ly, 6, 5, 0, 0, Math.PI * 2);
      ctx.fill();
      ctx.fillStyle = '#000';
      ctx.fillText(lab, 1281, ly + 1);
    });
    ctx.restore();
  }
};

new Chart(document.getElementById('c'), {
  type: 'scatter',
  data: { datasets },
  options: {
    responsive: false,
    animation: false,
    devicePixelRatio: 1,
    events: [],
    layout: { padding: { left: 165, right: 10, top: 25, bottom: 112 } },
    scales: {
      x: { type: 'linear', min: 0, max: 110, display: false },
      y: { type: 'linear', min: 0, max: 0.06, display: false }
    },
    plugins: { legend: { display: false }, tooltip: { enabled: false } }
  },
  plugins: [frame]
});
</script>
</body>
</html>
